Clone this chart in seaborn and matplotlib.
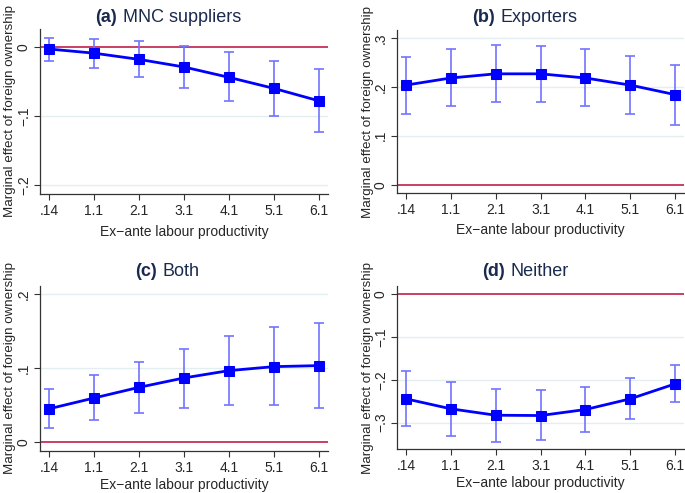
import numpy as np
import pandas as pd
import matplotlib
matplotlib.use("Agg")
import matplotlib.pyplot as plt
import seaborn as sns

sns.set_style("white")
plt.rcParams["font.family"] = ["Liberation Sans", "DejaVu Sans"]
plt.rcParams["axes.unicode_minus"] = True

# ----- data -----
x_labels = [".14", "1.1", "2.1", "3.1", "4.1", "5.1", "6.1"]

mnc_eff = [-0.003, -0.009, -0.018, -0.029, -0.044, -0.060, -0.078]
mnc_lo  = [-0.020, -0.030, -0.043, -0.060, -0.078, -0.100, -0.123]
mnc_hi  = [0.013, 0.012, 0.008, 0.001, -0.008, -0.020, -0.032]

exp_eff = [0.2035, 0.218, 0.2265, 0.2265, 0.218, 0.2035, 0.184]
exp_lo  = [0.144, 0.1605, 0.169, 0.169, 0.1605, 0.144, 0.122]
exp_hi  = [0.261, 0.277, 0.285, 0.284, 0.277, 0.262, 0.2455]

both_eff = [0.045, 0.0596, 0.074, 0.0867, 0.0966, 0.102, 0.1034]
both_lo  = [0.0185, 0.0293, 0.039, 0.0465, 0.0506, 0.0506, 0.046]
both_hi  = [0.072, 0.0907, 0.1088, 0.1264, 0.143, 0.155, 0.161]

nei_eff = [-0.2447, -0.268, -0.283, -0.2837, -0.2697, -0.2447, -0.2097]
nei_lo  = [-0.308, -0.332, -0.3445, -0.341, -0.3227, -0.2915, -0.2525]
nei_hi  = [-0.180, -0.205, -0.2206, -0.225, -0.218, -0.197, -0.165]

LINE_BLUE = "#0000ff"
CI_BLUE   = "#7373ff"
ZERO_RED  = "#c41e4a"
GRID_COL  = "#e3eef0"
TITLE_COL = "#1a2a4f"
FS = 10

fig = plt.figure(figsize=(6.85, 4.93), dpi=100)

panels = [
    # letter, name, eff, lo, hi, ylim, yticks, ticklabels, rect, title split xy,
    # ylabel x, xlabel y
    ("(a)", "MNC suppliers", mnc_eff, mnc_lo, mnc_hi, (-0.213, 0.026),
     [-0.2, -0.1, 0], ["−.2", "−.1", "0"],
     [0.0584, 0.6065, 0.420, 0.3347], (120, 17), -0.085, -0.185),
    ("(b)", "Exporters", exp_eff, exp_lo, exp_hi, (-0.017, 0.316),
     [0, 0.1, 0.2, 0.3], ["0", ".1", ".2", ".3"],
     [0.5796, 0.6085, 0.419, 0.3306], (498, 17), -0.081, -0.185),
    ("(c)", "Both", both_eff, both_lo, both_hi, (-0.012, 0.211),
     [0, 0.1, 0.2], ["0", ".1", ".2"],
     [0.0584, 0.0852, 0.420, 0.3347], (160, 272), -0.085, -0.165),
    ("(d)", "Neither", nei_eff, nei_lo, nei_hi, (-0.362, 0.019),
     [-0.3, -0.2, -0.1, 0], ["−.3", "−.2", "−.1", "0"],
     [0.5796, 0.0892, 0.419, 0.3306], (508, 272), -0.081, -0.165),
]

W, H = 685, 493
for letter, name, eff, lo, hi, ylim, yt, ytl, rect, txy, ylx, xly in panels:
    ax = fig.add_axes(rect)
    df = pd.DataFrame({"pos": np.arange(len(x_labels)), "eff": eff,
                       "lo": lo, "hi": hi})

    for v in yt:
        if v != 0:
            ax.axhline(v, color=GRID_COL, linewidth=1, zorder=0)
    ax.axhline(0, color=ZERO_RED, linewidth=1.2, zorder=1)

    ax.errorbar(df["pos"], df["eff"],
                yerr=[df["eff"] - df["lo"], df["hi"] - df["eff"]],
                fmt="none", ecolor=CI_BLUE, elinewidth=1.2, capsize=3.5,
                capthick=1.2, zorder=2)
    sns.lineplot(data=df, x="pos", y="eff", ax=ax, color=LINE_BLUE,
                 linewidth=2, marker="s", markersize=6.5,
                 markeredgecolor=LINE_BLUE, zorder=3)

    ax.set_xlim(-0.2, 6.2)
    ax.set_ylim(*ylim)
    ax.set_xticks(df["pos"])
    ax.set_xticklabels(x_labels, fontsize=FS)
    ax.set_yticks(yt)
    ax.set_yticklabels(ytl, fontsize=FS, rotation=90, va="center")
    ax.tick_params(axis="both", direction="out", length=4, width=0.8,
                   color="#333333", pad=3, bottom=True, left=True)
    ax.tick_params(axis="y", pad=2.5)
    for s in ["top", "right"]:
        ax.spines[s].set_visible(False)
    for s in ["left", "bottom"]:
        ax.spines[s].set_color("#333333")
        ax.spines[s].set_linewidth(0.9)

    ax.set_xlabel("Ex\u2212ante labour productivity", fontsize=FS)
    ax.set_ylabel("Marginal effect of foreign ownership", fontsize=9.6)
    ax.yaxis.set_label_coords(ylx, 0.5)
    ax.xaxis.set_label_coords(0.5, xly)

    tx, ty = txy
    fig.text((tx - 3) / W, 1 - ty / H, letter, fontsize=13,
             fontweight="bold", color=TITLE_COL, ha="right", va="center")
    fig.text((tx + 3) / W, 1 - ty / H, name, fontsize=13,
             color=TITLE_COL, ha="left", va="center")

fig.savefig("out.png", dpi=100)
